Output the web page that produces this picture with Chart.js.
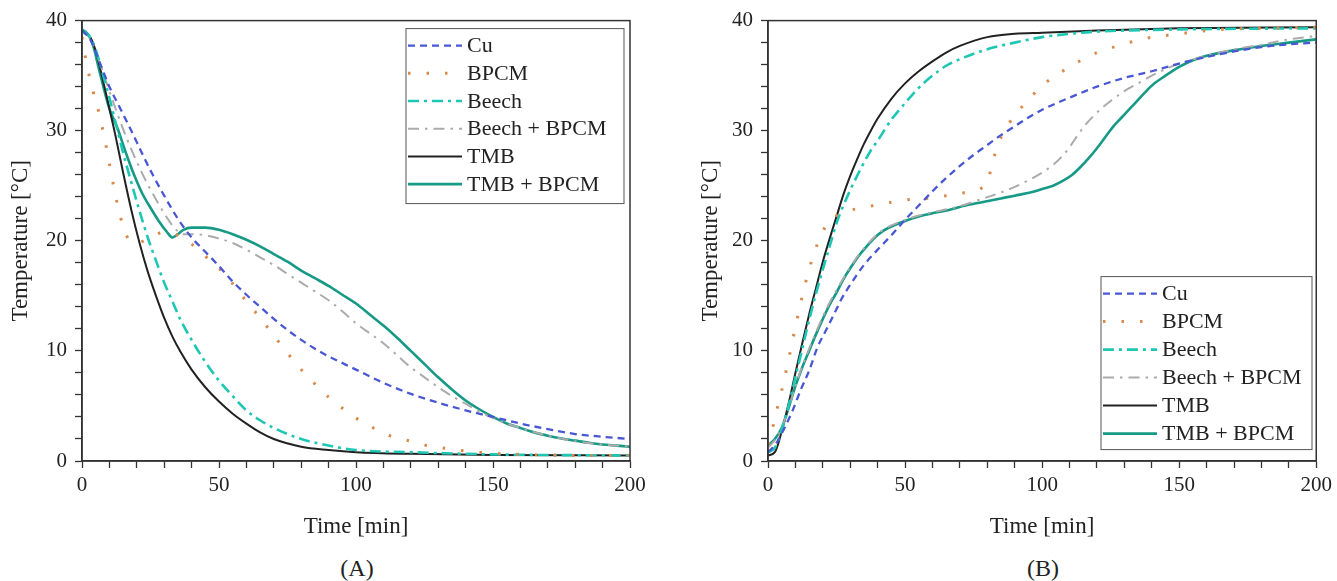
<!DOCTYPE html>
<html>
<head>
<meta charset="utf-8">
<script src="https://cdn.jsdelivr.net/npm/chart.js@4.4.1/dist/chart.umd.min.js"></script>
<style>
html, body { margin: 0; padding: 0; background: #fff; width: 1337px; height: 581px; overflow: hidden; }
canvas { position: absolute; top: 0; }
#chartA { left: 0; }
#chartB { left: 690px; }
.caption { position: absolute; top: 554px; font: 24px "Liberation Serif", serif; color: #222; transform: translateX(-50%); line-height: 28px; }
</style>
</head>
<body>
<canvas id="chartA" width="668" height="545"></canvas>
<canvas id="chartB" width="647" height="545"></canvas>
<div class="caption" style="left:357px">(A)</div>
<div class="caption" style="left:1043px">(B)</div>
<script>
// ---- (A) 冷却曲线 ----
const cuA_t = [0, 3, 6, 10, 14, 18, 22, 26, 30, 35, 40, 45, 50, 55, 60, 65, 70, 75, 80, 85, 90, 95, 100, 110, 120, 130, 140, 150, 160, 170, 180, 190, 200];
const cuA_T = [39.1, 38.3, 36.5, 34, 32, 30, 27.9, 25.9, 24.1, 22, 20.3, 19, 17.7, 16.3, 15.1, 14, 12.9, 11.9, 11, 10.2, 9.5, 8.9, 8.3, 7.1, 6.1, 5.3, 4.6, 4.0, 3.4, 2.9, 2.45, 2.2, 2.0];

const bpcmA_t = [0, 1, 2, 4, 6, 8, 10, 12, 14, 16, 18, 20, 25, 30, 35, 40, 45, 50, 55, 60, 65, 70, 75, 80, 85, 90, 95, 100, 105, 110, 115, 120, 125, 130, 140, 150, 160, 180, 200];
const bpcmA_T = [38.5, 37, 35.7, 33.6, 31.8, 29.6, 27, 24.4, 22.2, 20.6, 19.9, 19.8, 20.3, 20.8, 20.5, 19.7, 18.6, 17.5, 16.1, 14.5, 13, 11.4, 9.8, 8.3, 7.0, 5.8, 4.8, 3.9, 3.2, 2.5, 2.1, 1.8, 1.45, 1.25, 0.9, 0.7, 0.6, 0.5, 0.5];

const beechA_t = [0, 2, 4, 6, 8, 10, 12, 15, 18, 21, 24, 27, 30, 33, 36, 40, 45, 50, 55, 60, 65, 70, 80, 90, 100, 120, 150, 200];
const beechA_T = [39, 38.8, 38, 36.6, 34.8, 33, 31, 28, 25.3, 22.7, 20.3, 18.2, 16.2, 14.5, 12.8, 11, 9, 7.3, 5.9, 4.6, 3.7, 3.0, 2.0, 1.4, 1.0, 0.8, 0.6, 0.5];

const beechBpcmA_t = [0, 3, 6, 10, 14, 18, 22, 26, 30, 34, 37, 40, 45, 50, 55, 60, 65, 70, 75, 80, 85, 90, 95, 100, 105, 110, 115, 120, 125, 130, 135, 140, 145, 150, 160, 170, 180, 190, 200];
const beechBpcmA_T = [39, 38.4, 36.5, 33.6, 30.8, 28.3, 26.1, 24.2, 22.5, 21.1, 20.6, 20.6, 20.5, 20.2, 19.8, 19.2, 18.5, 17.8, 17, 16.2, 15.4, 14.6, 13.6, 12.5, 11.6, 10.7, 9.6, 8.5, 7.6, 6.7, 5.9, 5.2, 4.5, 3.9, 3.0, 2.3, 1.8, 1.5, 1.3];

const tmbA_t = [0, 2, 4, 6, 8, 10, 12, 15, 18, 21, 24, 27, 30, 33, 36, 40, 45, 50, 55, 60, 65, 70, 80, 90, 100, 120, 150, 200];
const tmbA_T = [39, 38.8, 38, 36.3, 34.2, 32, 29.8, 26.2, 22.8, 19.8, 17.2, 15, 13, 11.3, 9.9, 8.3, 6.7, 5.4, 4.3, 3.4, 2.6, 2.0, 1.3, 1.0, 0.8, 0.65, 0.55, 0.5];

const tmbBpcmA_t = [0, 2, 4, 6, 8, 10, 13, 16, 19, 22, 25, 28, 31, 33, 35, 37, 40, 45, 50, 55, 60, 65, 70, 75, 80, 85, 90, 95, 100, 105, 110, 115, 120, 125, 130, 135, 140, 145, 150, 155, 160, 165, 170, 175, 180, 185, 190, 195, 200];
const tmbBpcmA_T = [39.2, 38.8, 37.8, 35.8, 33.8, 32, 30.2, 28, 26, 24.3, 23, 21.8, 20.8, 20.3, 20.6, 21, 21.2, 21.2, 21, 20.6, 20.1, 19.5, 18.8, 18.1, 17.3, 16.6, 15.9, 15.1, 14.3, 13.3, 12.3, 11.2, 10.0, 8.8, 7.6, 6.5, 5.5, 4.7, 4.0, 3.4, 3.0, 2.6, 2.3, 2.05, 1.85, 1.65, 1.5, 1.4, 1.3];

// ---- (B) 升温曲线 ----
const cuB_t = [0, 3, 6, 9, 12, 15, 18, 21, 24, 27, 30, 35, 40, 45, 50, 55, 60, 65, 70, 75, 80, 85, 90, 95, 100, 110, 120, 130, 140, 150, 160, 170, 180, 190, 200];
const cuB_T = [0.8, 1.6, 3.0, 4.6, 6.5, 8.2, 10.3, 11.8, 13.3, 14.8, 16, 17.8, 19.2, 20.5, 21.9, 23.2, 24.5, 25.7, 26.8, 27.8, 28.7, 29.6, 30.4, 31.2, 31.9, 33, 34, 34.8, 35.4, 36.1, 36.7, 37.2, 37.6, 37.85, 38.0];

const bpcmB_t = [0, 1, 3, 5, 7, 9, 11, 13, 15, 17, 19, 21, 24, 27, 30, 35, 40, 45, 50, 55, 60, 65, 70, 75, 78, 80, 82, 84, 86, 88, 90, 95, 100, 105, 110, 115, 120, 125, 130, 135, 140, 145, 150, 160, 170, 180, 200];
const bpcmB_T = [1.5, 2.3, 4.4, 6.4, 8.6, 11, 13.3, 15.5, 17.4, 19, 20.3, 21.3, 22.1, 22.6, 22.8, 23, 23.3, 23.5, 23.7, 23.8, 23.9, 24.1, 24.3, 24.5, 24.8, 25.3, 27.2, 28.8, 29.9, 30.7, 31.4, 32.8, 34.1, 35.0, 35.8, 36.5, 37.1, 37.5, 37.9, 38.2, 38.5, 38.65, 38.8, 39.1, 39.25, 39.3, 39.4];

const beechB_t = [0, 2.5, 5, 7.5, 10, 12.5, 15, 17.5, 20, 22.5, 25, 27.5, 30, 32.5, 35, 37.5, 40, 45, 50, 55, 60, 65, 70, 80, 90, 100, 110, 120, 150, 200];
const beechB_T = [0.8, 1.2, 2.8, 5, 7.6, 10.2, 12.8, 15.2, 17.4, 19.5, 21.6, 23.2, 24.6, 25.9, 27.1, 28.2, 29.1, 31, 32.5, 33.9, 35, 35.9, 36.5, 37.4, 38, 38.5, 38.8, 39, 39.2, 39.3];

const beechBpcmB_t = [0, 2.5, 5, 7.5, 10, 12.5, 15, 17.5, 20, 22.5, 25, 27.5, 30, 33, 36, 39, 42, 45, 50, 55, 60, 66, 72, 78, 84, 90, 95, 100, 104, 107, 110, 113, 116, 119, 122, 125, 130, 135, 140, 145, 150, 160, 170, 180, 190, 200];
const beechBpcmB_T = [1.2, 1.9, 3, 4.8, 6.8, 8.6, 10.2, 11.7, 13.1, 14.4, 15.5, 16.6, 17.6, 18.7, 19.6, 20.4, 21, 21.4, 21.9, 22.3, 22.6, 22.9, 23.3, 23.8, 24.3, 24.9, 25.5, 26.2, 26.9, 27.6, 28.5, 29.6, 30.6, 31.4, 32.1, 32.7, 33.6, 34.3, 35, 35.6, 36.1, 36.8, 37.4, 37.8, 38.3, 38.6];

const tmbB_t = [0, 2.5, 5, 7.5, 10, 12.5, 15, 17.5, 20, 22.5, 25, 27.5, 30, 32.5, 35, 37.5, 40, 45, 50, 55, 60, 65, 70, 80, 90, 100, 120, 150, 200];
const tmbB_T = [0.5, 0.8, 2.7, 5.2, 8, 10.7, 13.3, 15.7, 18.1, 20.2, 22.2, 24.2, 25.9, 27.4, 28.8, 30, 31.1, 32.9, 34.3, 35.4, 36.3, 37.1, 37.7, 38.5, 38.8, 38.9, 39.1, 39.3, 39.4];

const tmbBpcmB_t = [0, 2.5, 5, 7.5, 10, 12.5, 15, 17.5, 20, 22.5, 25, 27.5, 30, 33, 36, 39, 42, 45, 50, 55, 60, 66, 72, 78, 84, 90, 96, 100, 104, 108, 111, 114, 117, 120, 123, 126, 129, 132, 135, 138, 141, 145, 150, 155, 160, 170, 180, 190, 200];
const tmbBpcmB_T = [1.4, 2, 3, 4.8, 6.8, 8.5, 10, 11.5, 12.9, 14.2, 15.3, 16.5, 17.5, 18.6, 19.5, 20.3, 20.9, 21.3, 21.8, 22.2, 22.5, 22.8, 23.2, 23.5, 23.8, 24.1, 24.4, 24.7, 25, 25.5, 26, 26.7, 27.5, 28.4, 29.4, 30.4, 31.2, 32, 32.8, 33.6, 34.3, 35, 35.8, 36.4, 36.8, 37.3, 37.7, 38, 38.3];

// 轴刻度
const xMajorTicks = [0, 50, 100, 150, 200];
const yMajorTicks = [0, 10, 20, 30, 40];

// 线型
const seriesStyles = [
    { label: 'Cu',            color: '#4a57d4', dash: [7, 5],          width: 2.3 },
    { label: 'BPCM',          color: '#d98a4a', dash: [2.5, 16],       width: 3 },
    { label: 'Beech',         color: '#1ec6b4', dash: [11, 5, 3, 5],   width: 2.6 },
    { label: 'Beech + BPCM',  color: '#ababab', dash: [11, 6, 2.5, 6], width: 2 },
    { label: 'TMB',           color: '#222222', dash: [],              width: 2 },
    { label: 'TMB + BPCM',    color: '#169a86', dash: [],              width: 2.6 }
];

Chart.defaults.font.family = '"Liberation Serif", "Times New Roman", serif';
Chart.defaults.color = '#222';

function pairs(ts, vs) {
    return ts.map((t, i) => ({ x: t, y: vs[i] }));
}

function makeDatasets(series) {
    return series.map((s, i) => ({
        label: seriesStyles[i].label,
        data: pairs(s[0], s[1]),
        borderColor: seriesStyles[i].color,
        borderDash: seriesStyles[i].dash,
        borderWidth: seriesStyles[i].width,
        pointRadius: 0,
        fill: false,
        cubicInterpolationMode: 'monotone'
    }));
}

// 图框
const framePlugin = {
    id: 'frame',
    afterDraw(chart) {
        const { ctx, chartArea: a } = chart;
        ctx.save();
        ctx.strokeStyle = '#333';
        ctx.lineWidth = 1.5;
        ctx.strokeRect(a.left, a.top, a.right - a.left, a.bottom - a.top);
        ctx.restore();
    }
};

// 图内图例
const innerLegend = {
    id: 'innerLegend',
    afterDraw(chart, args, opts) {
        const { ctx, chartArea: a } = chart;
        const x0 = a.left + opts.left, y0 = a.top + opts.top;
        ctx.save();
        ctx.fillStyle = '#fff';
        ctx.fillRect(x0, y0, opts.width, opts.height);
        ctx.strokeStyle = '#555';
        ctx.lineWidth = 1;
        ctx.strokeRect(x0, y0, opts.width, opts.height);
        ctx.font = '22px "Liberation Serif", serif';
        ctx.textBaseline = 'middle';
        chart.data.datasets.forEach((ds, i) => {
            const y = y0 + opts.firstRow + i * opts.rowHeight;
            ctx.beginPath();
            ctx.setLineDash(ds.borderDash);
            ctx.strokeStyle = ds.borderColor;
            ctx.lineWidth = ds.borderWidth;
            ctx.moveTo(x0 + 2, y);
            ctx.lineTo(x0 + 2 + opts.sample, y);
            ctx.stroke();
            ctx.setLineDash([]);
            ctx.fillStyle = '#222';
            ctx.fillText(ds.label, x0 + opts.sample + 7, y + 1);
        });
        ctx.restore();
    }
};

function makeChart(id, series, yAxisWidth, padRight, legendOpts) {
    return new Chart(document.getElementById(id), {
        type: 'line',
        data: { datasets: makeDatasets(series) },
        plugins: [framePlugin, innerLegend],
        options: {
            responsive: false,
            animation: false,
            layout: { padding: { top: 20, right: padRight, left: 0, bottom: 0 } },
            plugins: {
                legend: { display: false },
                tooltip: { enabled: false },
                innerLegend: legendOpts
            },
            scales: {
                x: {
                    type: 'linear', min: 0, max: 200,
                    ticks: {
                        stepSize: 10, autoSkip: false, maxRotation: 0, padding: 5,
                        font: { size: 21 }, color: '#222',
                        callback: v => xMajorTicks.includes(v) ? v : ''
                    },
                    grid: { drawOnChartArea: false, drawTicks: true, tickLength: 7, tickColor: '#333', tickWidth: 1.3 },
                    border: { display: true, color: '#333', width: 1.5 },
                    title: { display: true, text: 'Time [min]', font: { size: 23 }, color: '#222', padding: { top: 0, bottom: 4 } },
                    afterFit: s => { s.height = 84; }
                },
                y: {
                    type: 'linear', min: 0, max: 40,
                    ticks: {
                        stepSize: 2, autoSkip: false, padding: 8,
                        font: { size: 21 }, color: '#222',
                        callback: v => yMajorTicks.includes(v) ? v : ''
                    },
                    grid: { drawOnChartArea: false, drawTicks: true, tickLength: 7, tickColor: '#333', tickWidth: 1.3 },
                    border: { display: true, color: '#333', width: 1.5 },
                    title: { display: true, text: 'Temperature [°C]', font: { size: 23 }, color: '#222', padding: { top: 7, bottom: 0 } },
                    afterFit: s => { s.width = yAxisWidth; }
                }
            }
        }
    });
}

makeChart('chartA', [
    [cuA_t, cuA_T], [bpcmA_t, bpcmA_T], [beechA_t, beechA_T],
    [beechBpcmA_t, beechBpcmA_T], [tmbA_t, tmbA_T], [tmbBpcmA_t, tmbBpcmA_T]
], 82, 38, { left: 324, top: 8, width: 218, height: 175, firstRow: 17, rowHeight: 27.7, sample: 54 });

makeChart('chartB', [
    [cuB_t, cuB_T], [bpcmB_t, bpcmB_T], [beechB_t, beechB_T],
    [beechBpcmB_t, beechBpcmB_T], [tmbB_t, tmbB_T], [tmbBpcmB_t, tmbBpcmB_T]
], 78, 19, { left: 333, top: 256, width: 211, height: 173, firstRow: 17, rowHeight: 28, sample: 54 });
</script>
</body>
</html>
